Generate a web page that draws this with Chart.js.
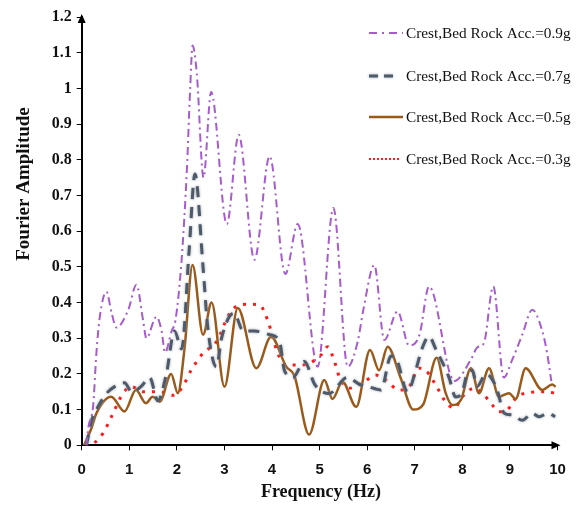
<!DOCTYPE html>
<html>
<head>
<meta charset="utf-8">
<script src="https://cdn.jsdelivr.net/npm/chart.js@4.4.1/dist/chart.umd.min.js"></script>
<style>
  html, body { margin: 0; padding: 0; background: #ffffff; }
  canvas { display: block; }
</style>
</head>
<body>
<canvas id="chart" width="581" height="507"></canvas>
<script>
// Series names
const seriesLabels = [
  'Crest,Bed Rock Acc.=0.9g',
  'Crest,Bed Rock Acc.=0.7g',
  'Crest,Bed Rock Acc.=0.5g',
  'Crest,Bed Rock Acc.=0.3g'
];

// Bed rock acceleration 0.9g
const freq09 = [0.10,0.14,0.24,0.31,0.38,0.52,0.63,0.73,0.98,1.15,1.29,1.36,1.57,1.68,1.75,1.89,1.97,2.10,2.21,2.28,2.33,2.42,2.56,2.72,3.05,3.30,3.63,3.95,4.28,4.54,4.96,5.29,5.59,5.80,5.92,6.15,6.36,6.64,6.88,7.10,7.30,7.83,8.18,8.32,8.45,8.65,8.87,9.05,9.26,9.47,9.68,9.78,9.87];
const amp09  = [0.00,0.05,0.11,0.26,0.36,0.43,0.37,0.33,0.38,0.45,0.35,0.30,0.36,0.32,0.26,0.32,0.35,0.52,0.77,1.00,1.12,1.04,0.75,0.99,0.62,0.87,0.52,0.81,0.48,0.62,0.22,0.665,0.22,0.29,0.38,0.505,0.295,0.375,0.28,0.31,0.445,0.18,0.24,0.275,0.285,0.445,0.19,0.24,0.31,0.38,0.32,0.26,0.18];

// Bed rock acceleration 0.7g
const freq07 = [0.10,0.21,0.31,0.52,0.70,0.90,1.05,1.25,1.43,1.60,1.78,1.95,2.10,2.26,2.38,2.55,2.65,2.83,2.94,3.10,3.20,3.40,3.63,3.95,4.16,4.26,4.44,4.68,4.90,5.20,5.58,5.85,6.01,6.29,6.50,6.62,6.85,7.02,7.15,7.30,7.44,7.72,7.86,8.00,8.10,8.21,8.31,8.50,8.72,8.88,9.05,9.26,9.47,9.61,9.80,9.95];
const amp07  = [0.00,0.07,0.10,0.145,0.165,0.175,0.15,0.165,0.19,0.125,0.20,0.32,0.27,0.55,0.76,0.50,0.33,0.22,0.30,0.36,0.37,0.32,0.32,0.31,0.29,0.21,0.19,0.235,0.17,0.145,0.19,0.17,0.165,0.155,0.25,0.24,0.15,0.21,0.27,0.305,0.27,0.19,0.135,0.15,0.20,0.21,0.165,0.20,0.16,0.09,0.085,0.07,0.09,0.08,0.09,0.08];

// Bed rock acceleration 0.5g
const freq05 = [0.05,0.21,0.31,0.62,0.90,1.14,1.35,1.49,1.64,1.88,2.02,2.16,2.33,2.55,2.73,3.00,3.28,3.67,3.98,4.30,4.47,4.78,5.10,5.27,5.48,5.77,6.06,6.25,6.43,6.70,6.97,7.18,7.46,7.65,7.79,7.97,8.18,8.35,8.56,8.77,8.98,9.12,9.33,9.68,9.89,9.96];
const amp05  = [0.00,0.05,0.09,0.136,0.095,0.155,0.118,0.136,0.122,0.20,0.146,0.27,0.505,0.31,0.40,0.164,0.385,0.216,0.304,0.22,0.195,0.03,0.183,0.13,0.178,0.108,0.267,0.21,0.276,0.19,0.10,0.115,0.245,0.146,0.113,0.127,0.216,0.146,0.216,0.136,0.146,0.13,0.216,0.155,0.17,0.164];

// Bed rock acceleration 0.3g
const freq03 = [0.07,0.24,0.45,0.66,0.87,1.05,1.29,1.64,1.92,2.10,2.30,2.55,2.83,3.11,3.32,3.55,3.74,3.91,4.12,4.30,4.58,4.79,5.03,5.17,5.30,5.42,5.62,5.94,6.18,6.39,6.67,6.88,7.09,7.23,7.48,7.62,7.83,8.00,8.25,8.46,8.63,8.77,8.94,9.15,9.33,9.78,9.95];
const amp03  = [0.00,0.005,0.034,0.09,0.146,0.164,0.15,0.15,0.14,0.16,0.21,0.258,0.29,0.37,0.393,0.395,0.393,0.35,0.258,0.225,0.225,0.23,0.253,0.276,0.24,0.19,0.16,0.178,0.197,0.183,0.155,0.164,0.216,0.21,0.16,0.127,0.104,0.136,0.16,0.14,0.113,0.094,0.099,0.136,0.146,0.15,0.146];

// Axis ranges and titles
const xRange = [0, 10];
const yRange = [0, 1.2];
const xTitle = 'Frequency (Hz)';
const yTitle = 'Fourier Amplitude';

const toPoints = (xs, ys) => xs.map((x, i) => ({ x, y: ys[i] }));

const datasets = [
  {
    label: seriesLabels[0],
    data: toPoints(freq09, amp09),
    borderColor: '#a65ccb',
    borderWidth: 2,
    borderDash: [8, 4, 2, 4],
    legendDash: [8, 5, 2, 5]
  },
  {
    label: seriesLabels[1],
    data: toPoints(freq07, amp07),
    borderColor: '#4e5a69',
    borderWidth: 3,
    borderDash: [11, 8],
    legendDash: [9, 6],
    halo: 'rgba(150,160,172,0.9)'
  },
  {
    label: seriesLabels[2],
    data: toPoints(freq05, amp05),
    borderColor: '#9a5a1c',
    borderWidth: 2.5,
    borderDash: [],
    legendDash: []
  },
  {
    label: seriesLabels[3],
    data: toPoints(freq03, amp03),
    borderColor: '#ff1a1a',
    borderWidth: 3,
    borderDash: [3, 7],
    legendDash: [2, 2],
    legendWidth: 2
  }
];

// Soft light outline around the 0.7g dashes
const haloPlugin = {
  id: 'halo',
  beforeDatasetDraw(chart, args) {
    const ds = chart.data.datasets[args.index];
    chart.ctx.save();
    if (ds.halo) {
      chart.ctx.shadowColor = ds.halo;
      chart.ctx.shadowBlur = 3;
    }
  },
  afterDatasetDraw(chart) {
    chart.ctx.restore();
  }
};

// Arrowheads, axis titles and the series key
const decorPlugin = {
  id: 'decor',
  afterDraw(chart) {
    const ctx = chart.ctx;
    const a = chart.chartArea;
    ctx.save();
    ctx.fillStyle = '#000000';
    // arrow at the top of the vertical axis
    ctx.beginPath();
    ctx.moveTo(a.left, a.top - 3);
    ctx.lineTo(a.left - 4, a.top + 6);
    ctx.lineTo(a.left + 4, a.top + 6);
    ctx.closePath();
    ctx.fill();
    // arrow at the right end of the horizontal axis
    ctx.beginPath();
    ctx.moveTo(a.right + 3, a.bottom);
    ctx.lineTo(a.right - 6, a.bottom - 4);
    ctx.lineTo(a.right - 6, a.bottom + 4);
    ctx.closePath();
    ctx.fill();

    // axis titles
    ctx.fillStyle = '#111111';
    ctx.font = 'bold 18px "Liberation Serif", "Times New Roman", serif';
    ctx.textAlign = 'center';
    ctx.textBaseline = 'middle';
    ctx.fillText(xTitle, 321, 492);
    ctx.save();
    ctx.font = 'bold 19px "Liberation Serif", "Times New Roman", serif';
    ctx.translate(24, 184);
    ctx.rotate(-Math.PI / 2);
    ctx.fillText(yTitle, 0, 0);
    ctx.restore();

    // series key
    const rowsY = [33, 76, 117, 159];
    ctx.font = '15.3px "Liberation Serif", "Times New Roman", serif';
    ctx.textAlign = 'left';
    chart.data.datasets.forEach((ds, i) => {
      const y = rowsY[i];
      ctx.save();
      ctx.strokeStyle = ds.borderColor;
      ctx.lineWidth = ds.legendWidth || ds.borderWidth;
      ctx.setLineDash(ds.legendDash || []);
      if (ds.halo) { ctx.shadowColor = ds.halo; ctx.shadowBlur = 3; }
      ctx.beginPath();
      ctx.moveTo(369, y);
      ctx.lineTo(i === 1 ? 396 : (i === 3 ? 399 : 403), y);
      ctx.stroke();
      ctx.restore();
      ctx.fillStyle = '#111111';
      ctx.fillText(ds.label, 406, y + 1);
    });
    ctx.restore();
  }
};

new Chart(document.getElementById('chart'), {
  type: 'line',
  data: { datasets },
  options: {
    responsive: false,
    animation: false,
    layout: { padding: { top: 17, right: 23.5, left: 0, bottom: 0 } },
    elements: {
      point: { radius: 0, hoverRadius: 0 },
      line: { cubicInterpolationMode: 'monotone', fill: false }
    },
    plugins: {
      legend: { display: false },
      tooltip: { enabled: false }
    },
    scales: {
      x: {
        type: 'linear',
        min: xRange[0],
        max: xRange[1],
        afterFit: s => { s.height = 61.7; },
        border: { display: true, color: '#000000', width: 2 },
        grid: { drawOnChartArea: false, drawTicks: true, tickLength: 5, color: '#000000' },
        ticks: {
          stepSize: 1,
          padding: 11,
          color: '#111111',
          font: { family: '"Liberation Sans", Arial, sans-serif', size: 15, weight: 'bold' },
          callback: v => String(v)
        }
      },
      y: {
        type: 'linear',
        min: yRange[0],
        max: yRange[1],
        afterFit: s => { s.width = 81.7; },
        border: { display: true, color: '#000000', width: 2 },
        grid: { drawOnChartArea: false, drawTicks: true, tickLength: 5, color: '#000000' },
        ticks: {
          stepSize: 0.1,
          padding: 5,
          color: '#111111',
          font: { family: '"Liberation Serif", "Times New Roman", serif', size: 16, weight: 'bold' },
          callback: v => String(+v.toFixed(1))
        }
      }
    }
  },
  plugins: [haloPlugin, decorPlugin]
});
</script>
</body>
</html>
